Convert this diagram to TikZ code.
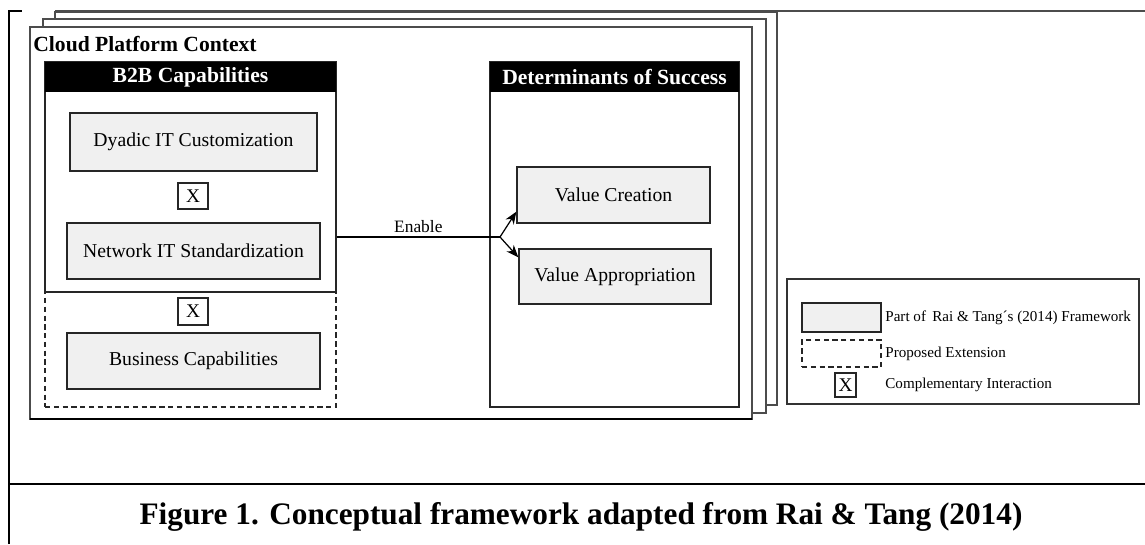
\documentclass[tikz,border=0pt]{standalone}
\usepackage{fontspec}
\setmainfont{Liberation Serif}
\usepackage{tikz}
\usetikzlibrary{arrows.meta,positioning}

\begin{document}
\begin{tikzpicture}[x=0.02cm,y=-0.02cm,
  card/.style={draw=black!70,line width=0.7pt,fill=white},
  panel/.style={draw=black!85,line width=0.8pt,inner sep=0pt},
  head/.style={fill=black,text=white,inner sep=0pt,minimum height=0.6cm,
    font=\fontsize{12.3}{14}\selectfont\bfseries},
  part/.style={draw=black!85,line width=0.8pt,fill=black!6,inner sep=0pt,
    font=\fontsize{11.2}{13}\selectfont},
  ext/.style={draw=black!85,line width=0.8pt,dash pattern=on 3pt off 2pt,inner sep=0pt},
  cross/.style={draw=black!85,line width=0.8pt,fill=white,inner sep=0pt,
    minimum width=0.6cm,minimum height=0.52cm,font=\fontsize{11}{13}\selectfont},
  legtext/.style={anchor=west,inner sep=0pt,font=\fontsize{8.6}{10}\selectfont},
  link/.style={line width=0.7pt,-{Stealth[length=7pt,width=5.5pt]}}]
\useasboundingbox (0,0) rectangle (1145,544);

% frame of the figure
\draw[line width=1.5pt] (9,544) -- (9,11) -- (22,11);
\draw[black!70,line width=0.7pt] (55,11) -- (1145,11);
\draw[line width=1.5pt] (9,484) -- (1145,484);

% stack of context cards
\draw[card] (55,12) rectangle (777,405);
\draw[card] (43,19) rectangle (766,413);
\draw[card] (30,27) rectangle (752,419);
\draw[line width=1.3pt] (30,419) -- (752,419);
\node[anchor=west,inner sep=0pt,font=\fontsize{12.3}{14}\selectfont\bfseries]
  (ctx) at (33,44) {Cloud Platform Context};

% capabilities
\node[ext,minimum width=5.82cm,minimum height=2.3cm] (ext) at (190.5,349.5) {};
\node[panel,fill=white,minimum width=5.82cm,minimum height=4.6cm] (b2b) at (190.5,177) {};
\node[head,minimum width=5.82cm] (b2bhead) at (190.5,77) {B2B Capabilities};
\node[part,minimum width=4.94cm,minimum height=1.16cm] (dyadic) at (193.5,142) {Dyadic IT Customization};
\node[cross] (x1) at (193,196) {X};
\node[part,minimum width=5.06cm,minimum height=1.12cm] (network) at (193.5,251) {Network IT Standardization};
\node[cross,minimum height=0.54cm] (x2) at (193,311.5) {X};
\node[part,minimum width=5.06cm,minimum height=1.12cm] (business) at (193.5,361) {Business Capabilities};

% determinants
\node[panel,minimum width=4.98cm,minimum height=6.9cm] (det) at (614.5,234.5) {};
\node[head,minimum width=4.98cm] (dethead) at (614.5,77) {Determinants of Success};
\node[part,minimum width=3.86cm,minimum height=1.12cm] (vc) at (613.5,195) {Value Creation};
\node[part,minimum width=3.84cm,minimum height=1.1cm] (va) at (615,276.5) {Value Appropriation};

% enable link
\coordinate (fork) at (500,237);
\draw[line width=0.7pt] (b2b.east |- fork) -- node[above,inner sep=2pt,font=\fontsize{9.9}{12}\selectfont] (enable) {Enable} (fork);
\draw[link] (fork) -- ([yshift=0.24cm]vc.south west);
\draw[link] (fork) -- ([yshift=-0.18cm]va.north west);

% legend
\draw[draw=black!80,line width=0.8pt] (787,279) rectangle (1139,404);
\node[part,minimum width=1.58cm,minimum height=0.58cm] (lpart) at (841.5,317.5) {};
\node[ext,minimum width=1.58cm,minimum height=0.54cm] (lext) at (841.5,353.5) {};
\node[cross,minimum width=0.42cm,minimum height=0.48cm] (lx) at (845.5,385) {X};
\node[legtext] (tpart) at (885,317.5) {Part of\, Rai \& Tang´s (2014) Framework};
\node[legtext] (text) at (885,353.5) {Proposed Extension};
\node[legtext] (tx) at (885,385) {Complementary Interaction};

% caption
\node[font=\fontsize{17.8}{20}\selectfont\bfseries] (caption) at (581,517)
  {Figure 1. Conceptual framework adapted from Rai \& Tang (2014)};
\end{tikzpicture}
\end{document}
